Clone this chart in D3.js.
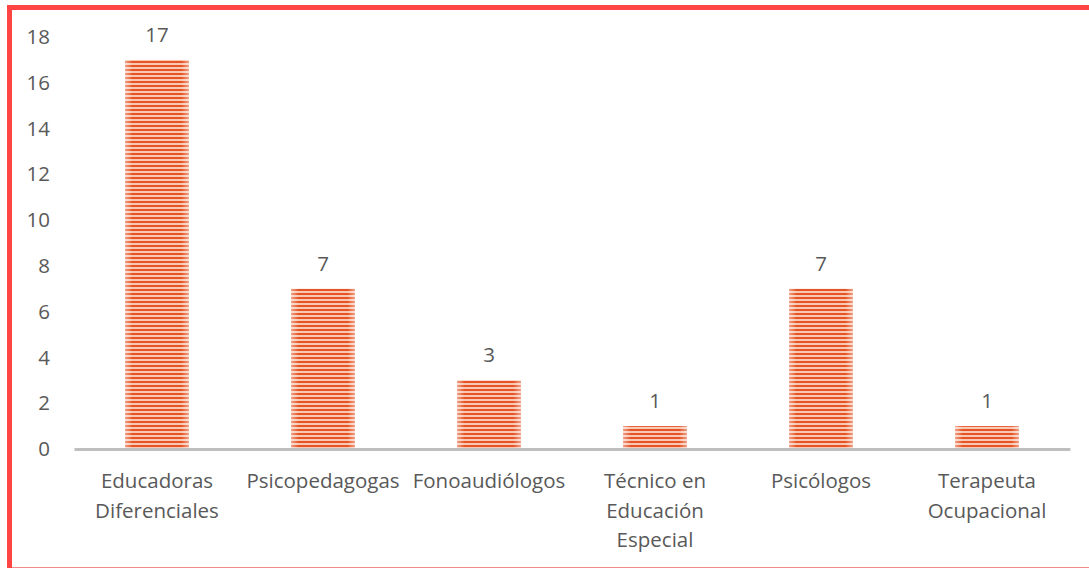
<!DOCTYPE html>
<html>
<head>
<meta charset="utf-8">
<script src="https://cdn.jsdelivr.net/npm/d3@7"></script>
<style>
  body { margin: 0; background: #fff; }
  svg text { font-family: "Open Sans", sans-serif; fill: #595959; }
</style>
</head>
<body>
<div id="chart"></div>
<script>
// data
var categories = [["Educadoras", "Diferenciales"], ["Psicopedagogas"], ["Fonoaudiólogos"],
                  ["Técnico en", "Educación", "Especial"], ["Psicólogos"], ["Terapeuta", "Ocupacional"]];
var values = [17, 7, 3, 1, 7, 1];
var yTicks = [0, 2, 4, 6, 8, 10, 12, 14, 16, 18];

var W = 1089, H = 568;
var margin = {top: 37, right: 19, bottom: 119, left: 74},
    width = W - margin.left - margin.right,
    height = H - margin.top - margin.bottom;

var svg = d3.select("#chart")
  .append("svg")
    .attr("width", W)
    .attr("height", H);

// stripe fill
var defs = svg.append("defs");
var pat = defs.append("pattern")
  .attr("id", "stripes")
  .attr("patternUnits", "userSpaceOnUse")
  .attr("width", 8).attr("height", 4);
pat.append("rect").attr("width", 8).attr("height", 4).attr("fill", "#f8c8b2");
pat.append("rect").attr("width", 8).attr("height", 2).attr("fill", "#e55327");

var edge = defs.append("linearGradient").attr("id", "edge")
  .attr("x1", "0").attr("x2", "1").attr("y1", "0").attr("y2", "0");
edge.append("stop").attr("offset", "0").attr("stop-color", "#fff").attr("stop-opacity", 0.45);
edge.append("stop").attr("offset", "0.12").attr("stop-color", "#fff").attr("stop-opacity", 0);
edge.append("stop").attr("offset", "0.88").attr("stop-color", "#fff").attr("stop-opacity", 0);
edge.append("stop").attr("offset", "1").attr("stop-color", "#fff").attr("stop-opacity", 0.45);

// frame
svg.append("line").attr("x1", 7).attr("x2", W).attr("y1", 7.5).attr("y2", 7.5)
  .attr("stroke", "#ff4444").attr("stroke-width", 5);
svg.append("line").attr("x1", 9.5).attr("x2", 9.5).attr("y1", 5).attr("y2", H)
  .attr("stroke", "#ff4444").attr("stroke-width", 5);
svg.append("line").attr("x1", 12).attr("x2", W).attr("y1", 567.5).attr("y2", 567.5)
  .attr("stroke", "#f28a8a").attr("stroke-width", 1);

var g = svg.append("g")
  .attr("transform", "translate(" + margin.left + "," + margin.top + ")");

var x = d3.scaleBand()
  .domain(d3.range(categories.length))
  .range([0, width])
  .paddingInner(0.615)
  .paddingOuter(0.3075);

var y = d3.scaleLinear()
  .domain([0, 18])
  .range([height, 0]);

// y axis labels
var yAxis = g.append("g")
  .call(d3.axisLeft(y).tickValues(yTicks).tickSize(0).tickPadding(24));
yAxis.select(".domain").remove();
yAxis.selectAll("text").style("font-size", "20.5px");

// bars
var bars = g.selectAll(".bar")
  .data(values)
  .enter();
bars.append("rect")
  .attr("x", function(d, i){ return x(i); })
  .attr("y", function(d){ return y(d); })
  .attr("width", x.bandwidth())
  .attr("height", function(d){ return height - y(d); })
  .attr("fill", "url(#stripes)");
bars.append("rect")
  .attr("x", function(d, i){ return x(i); })
  .attr("y", function(d){ return y(d); })
  .attr("width", x.bandwidth())
  .attr("height", function(d){ return height - y(d); })
  .attr("fill", "url(#edge)");

// data labels
bars.append("text")
  .attr("x", function(d, i){ return x(i) + x.bandwidth() / 2; })
  .attr("y", function(d){ return y(d) - 18; })
  .attr("text-anchor", "middle")
  .style("font-size", "20.5px")
  .text(function(d){ return d; });

// x axis
var xAxis = g.append("g")
  .attr("transform", "translate(0," + height + ")")
  .call(d3.axisBottom(x).tickSize(0).tickFormat(""));
xAxis.select(".domain").attr("stroke", "#bfbfbf").attr("stroke-width", 3);

categories.forEach(function(lines, i){
  var t = g.append("text")
    .attr("x", x(i) + x.bandwidth() / 2)
    .attr("y", height + 39)
    .attr("text-anchor", "middle")
    .style("font-size", "20.5px");
  lines.forEach(function(l, k){
    t.append("tspan")
      .attr("x", x(i) + x.bandwidth() / 2)
      .attr("dy", k === 0 ? 0 : 29.5)
      .text(l);
  });
});
</script>
</body>
</html>
